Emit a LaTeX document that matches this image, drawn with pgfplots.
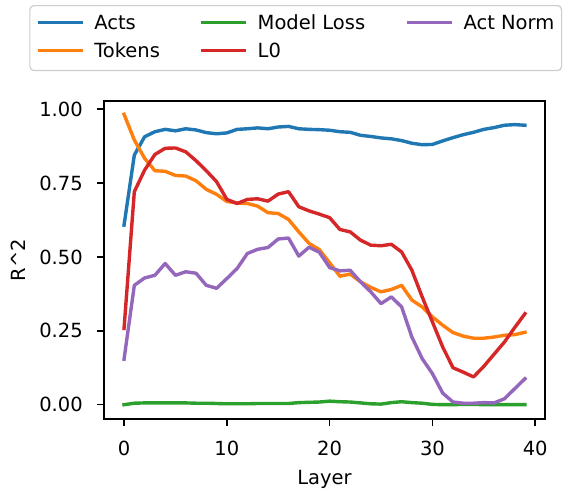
\documentclass[border=0pt]{standalone}
\usepackage{pgfplots}
\usepackage{pgfplotstable}
\pgfplotsset{compat=1.18}
\usepackage{fontspec}
\setmainfont{DejaVu Sans}
\definecolor{c0}{HTML}{1F77B4}
\definecolor{c1}{HTML}{FF7F0E}
\definecolor{c2}{HTML}{2CA02C}
\definecolor{c3}{HTML}{D62728}
\definecolor{c4}{HTML}{9467BD}
\pgfplotstableread{
L acts tokens loss lzero norm
0 0.608 0.983 0.000 0.258 0.154
1 0.845 0.896 0.005 0.721 0.404
2 0.907 0.834 0.006 0.794 0.429
3 0.924 0.792 0.006 0.847 0.438
4 0.932 0.790 0.006 0.868 0.478
5 0.927 0.776 0.006 0.869 0.438
6 0.934 0.774 0.006 0.856 0.450
7 0.930 0.758 0.005 0.826 0.445
8 0.921 0.729 0.005 0.792 0.404
9 0.917 0.712 0.004 0.755 0.394
10 0.920 0.688 0.003 0.695 0.427
11 0.932 0.683 0.003 0.681 0.461
12 0.934 0.681 0.003 0.695 0.512
13 0.937 0.672 0.004 0.697 0.526
14 0.934 0.650 0.004 0.689 0.532
15 0.940 0.647 0.004 0.713 0.561
16 0.942 0.627 0.004 0.721 0.564
17 0.934 0.585 0.007 0.670 0.503
18 0.932 0.546 0.008 0.656 0.533
19 0.931 0.525 0.009 0.645 0.516
20 0.929 0.480 0.012 0.633 0.464
21 0.924 0.435 0.010 0.593 0.453
22 0.922 0.442 0.009 0.585 0.455
23 0.912 0.416 0.006 0.557 0.416
24 0.908 0.397 0.003 0.540 0.382
25 0.903 0.382 0.002 0.538 0.342
26 0.900 0.390 0.007 0.543 0.365
27 0.894 0.404 0.010 0.517 0.331
28 0.885 0.354 0.007 0.455 0.229
29 0.880 0.331 0.005 0.365 0.156
30 0.881 0.297 0.001 0.280 0.105
31 0.893 0.269 0.000 0.195 0.039
32 0.904 0.244 0.000 0.125 0.009
33 0.914 0.232 0.001 0.110 0.005
34 0.922 0.225 0.001 0.094 0.005
35 0.932 0.225 0.000 0.130 0.007
36 0.938 0.229 0.000 0.171 0.006
37 0.946 0.235 0.000 0.212 0.020
38 0.948 0.237 0.000 0.261 0.054
39 0.946 0.245 0.000 0.308 0.088
}\datatable
\begin{document}
\fontsize{9.75pt}{11.7pt}\selectfont
\begin{tikzpicture}
\useasboundingbox (-52pt,-35pt) rectangle (231pt,209.5pt);
\begin{axis}[
  at={(0pt,0pt)}, anchor=south west,
  scale only axis, width=220.5pt, height=159pt,
  xmin=-1.95, xmax=40.95, ymin=-0.0485, ymax=1.028,
  xtick={0,10,20,30,40}, ytick={0,0.25,0.5,0.75,1},
  yticklabel style={/pgf/number format/fixed, /pgf/number format/fixed zerofill, /pgf/number format/precision=2, xshift=-3.7pt},
  xticklabel style={yshift=-4pt},
  /pgf/number format/assume math mode=true,
  tick pos=left, tick align=outside, major tick length=3.5pt,
  every tick/.style={black, line width=0.8pt},
  axis line style={line width=0.8pt},
  ticklabel style={font=\fontsize{9.75pt}{11.7pt}\selectfont},
  label style={font=\fontsize{9.75pt}{11.7pt}\selectfont},
  xlabel={Layer}, ylabel={R\textasciicircum 2},
  xlabel style={at={(axis description cs:0.5,-0.2075)}, anchor=base},
  ylabel style={at={(axis description cs:-0.195,0.5)}, anchor=center},
  legend columns=3,
  legend image code/.code={\draw[#1, line width=1.7pt, line cap=butt] (0pt,3.3pt) -- (22.5pt,3.3pt); \path (0pt,0pt) (27.5pt,0pt);},
  legend style={at={(axis description cs:-0.1694,1.3019)}, anchor=north west,
    draw=black!20, line width=0.6pt, rounded corners=2pt,
    inner xsep=3pt, inner ysep=4.4pt, column sep=0pt, row sep=4.65pt,
    font=\fontsize{9.75pt}{11.7pt}\selectfont,
    nodes={inner xsep=0pt, inner ysep=0pt, text height=7.3pt, text depth=2.2pt, anchor=base west}},
  every axis plot/.append style={line width=1.7pt, line join=round, line cap=rect},
]
\addlegendimage{c0}\addlegendentry{\makebox[52.5pt][l]{Acts}}
\addlegendimage{c2}\addlegendentry{\makebox[73.75pt][l]{Model Loss}}
\addlegendimage{c4}\addlegendentry{\makebox[46pt][l]{Act Norm}}
\addlegendimage{c1}\addlegendentry{\makebox[52.5pt][l]{Tokens}}
\addlegendimage{c3}\addlegendentry{\makebox[73.75pt][l]{L0}}
\addplot[c0, forget plot] table[x=L, y=acts] {\datatable};
\addplot[c1, forget plot] table[x=L, y=tokens] {\datatable};
\addplot[c2, forget plot] table[x=L, y=loss] {\datatable};
\addplot[c3, forget plot] table[x=L, y=lzero] {\datatable};
\addplot[c4, forget plot] table[x=L, y=norm] {\datatable};
\end{axis}
\end{tikzpicture}
\end{document}
